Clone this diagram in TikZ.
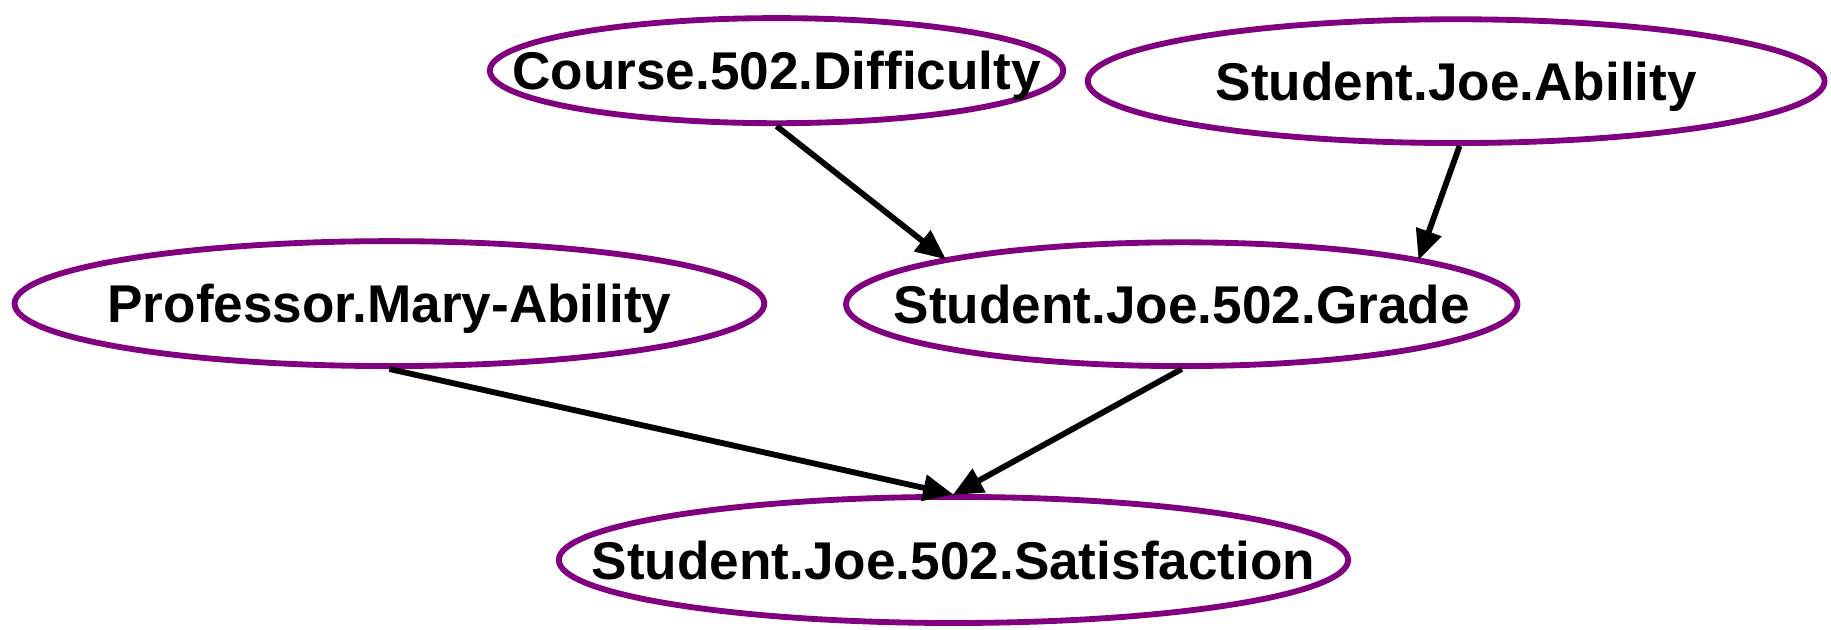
\documentclass[tikz,border=0pt]{standalone}
\usepackage{fontspec}
\setmainfont{Liberation Sans}
\usetikzlibrary{shapes.geometric,arrows.meta}
\definecolor{vpurple}{RGB}{128,0,128}
\newcommand{\vlabel}[1]{\raisebox{-0.36em}[0pt][0pt]{\makebox[0pt]{#1}}}
\tikzset{
  var/.style={ellipse, draw=vpurple, line width=5pt, inner sep=0pt, fill=white,
    font=\fontsize{45.5}{54}\selectfont\bfseries},
  edge/.style={line width=5pt, -{Triangle[length=26pt,width=22pt]}, shorten >=-2pt}
}
\begin{document}
\begin{tikzpicture}[x=1pt,y=1pt]
\useasboundingbox (0,0) rectangle (1568,-539);
\node[var, minimum width=491pt, minimum height=90pt] (c) at (665,-60.5) {\vlabel{Course.502.Difficulty}};
\node[var, minimum width=631pt, minimum height=106pt] (a) at (1247,-69.5) {\vlabel{Student.Joe.Ability}};
\node[var, minimum width=642pt, minimum height=107pt] (p) at (333.5,-260) {\vlabel{Professor.Mary-Ability}};
\node[var, minimum width=575pt, minimum height=106pt] (g) at (1012,-260.5) {\vlabel{Student.Joe.502.Grade}};
\node[var, minimum width=676pt, minimum height=108pt] (s) at (816.5,-479.5) {\vlabel{Student.Joe.502.Satisfaction}};
\draw[edge] (c.south) -- (g.169.5);
\draw[edge] (a.-87) -- (g.11);
\draw[edge] (p.south) -- (s.92);
\draw[edge] (g.south) -- (s.89);
\end{tikzpicture}
\end{document}
